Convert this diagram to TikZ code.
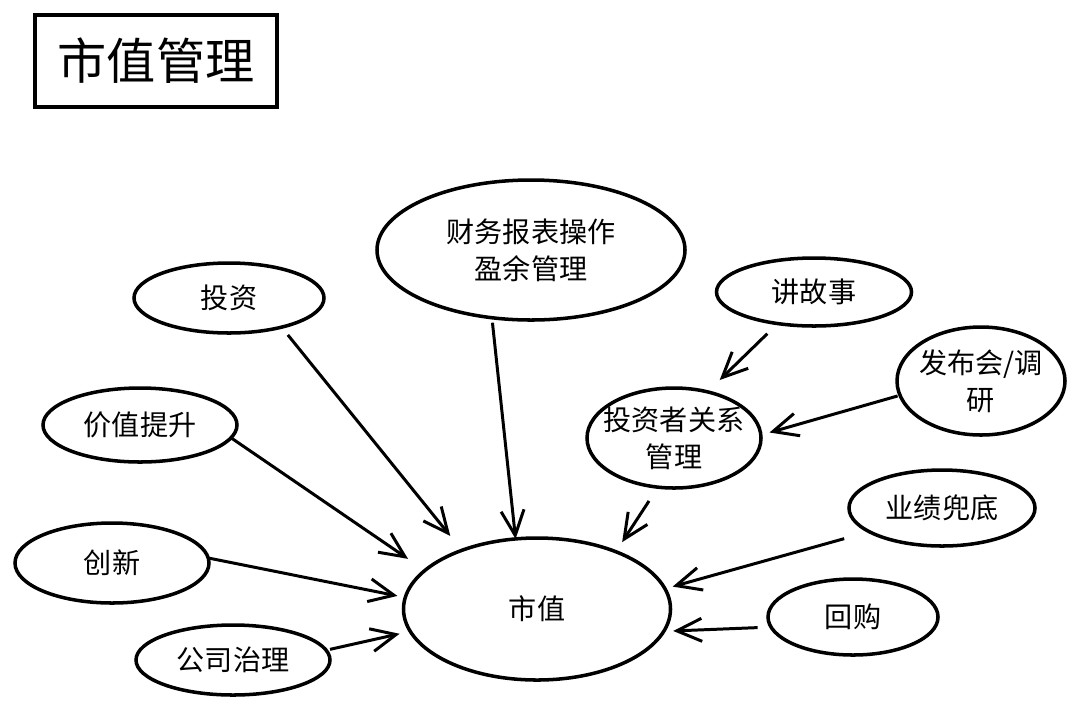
\documentclass[tikz,border=0pt]{standalone}
\usepackage{fontspec}
\newfontfamily\cjk{Noto Sans CJK SC}
\usetikzlibrary{shapes.geometric,arrows.meta}

\begin{document}
\begin{tikzpicture}[x=0.2mm,y=-0.2mm,line width=1.7pt,font={\cjk\fontsize{16}{21}\selectfont},
  bubble/.style={ellipse,draw,line width=2pt,inner xsep=-3mm,inner ysep=-2mm,outer sep=0pt,align=center},
  arr/.style={-{Straight Barb[length=5mm,width=4.6mm]}}]
\useasboundingbox (0,0) rectangle (1080,712);
\node[draw,line width=2pt,minimum width=48.4mm,minimum height=18.4mm,font={\cjk\fontsize{28}{32}\selectfont}] (title) at (156,61) {市值管理};
\node[bubble,minimum width=61.6mm,minimum height=28mm] (caiwu) at (531,250) {财务报表操作\\盈余管理};
\node[bubble,minimum width=38mm,minimum height=14mm] (touzi) at (229,298) {投资};
\node[bubble,minimum width=39mm,minimum height=13.6mm] (jianggushi) at (814,292) {讲故事};
\node[bubble,minimum width=33.6mm,minimum height=21.6mm] (fabuhui) at (981,381) {发布会/调\\研};
\node[bubble,minimum width=38.8mm,minimum height=14.8mm] (jiazhi) at (140,425) {价值提升};
\node[bubble,minimum width=34.8mm,minimum height=20mm] (touguan) at (674,438) {投资者关系\\管理};
\node[bubble,minimum width=37.2mm,minimum height=15.2mm] (yeji) at (942,508) {业绩兜底};
\node[bubble,minimum width=38.8mm,minimum height=16mm] (chuangxin) at (112,563) {创新};
\node[bubble,minimum width=53.4mm,minimum height=28.4mm] (shizhi) at (537,609) {市值};
\node[bubble,minimum width=34mm,minimum height=15.2mm] (huigou) at (853,617) {回购};
\node[bubble,minimum width=38.8mm,minimum height=14mm] (zhili) at (233,660) {公司治理};
\draw[arr,shorten <=2mm,shorten >=3.7mm] (touzi.-29) -- (shizhi.142);
\draw[arr,shorten <=1mm] (caiwu.-120) -- (shizhi.107);
\draw[arr,shorten >=4.1mm] (jiazhi.-8) -- (shizhi.161);
\draw[arr,shorten >=1.6mm] (chuangxin.3) -- (shizhi.175);
\draw[arr,shorten <=0.8mm,shorten >=2.2mm] (zhili.6) -- (shizhi.-170);
\draw[arr,shorten <=2.9mm,shorten >=3.4mm] (jianggushi.-139) -- (touguan.54);
\draw[arr,shorten <=0.5mm,shorten >=1.8mm] (fabuhui.-170) -- (touguan.2);
\draw[arr,shorten <=3.3mm,shorten >=2.3mm] (touguan.-108) -- (shizhi.36);
\draw[arr,shorten <=5.2mm,shorten >=1.6mm] (yeji.-162) -- (shizhi.9);
\draw[arr,shorten <=2.7mm,shorten >=1.9mm] (huigou.-173) -- (shizhi.-10);
\end{tikzpicture}
\end{document}
